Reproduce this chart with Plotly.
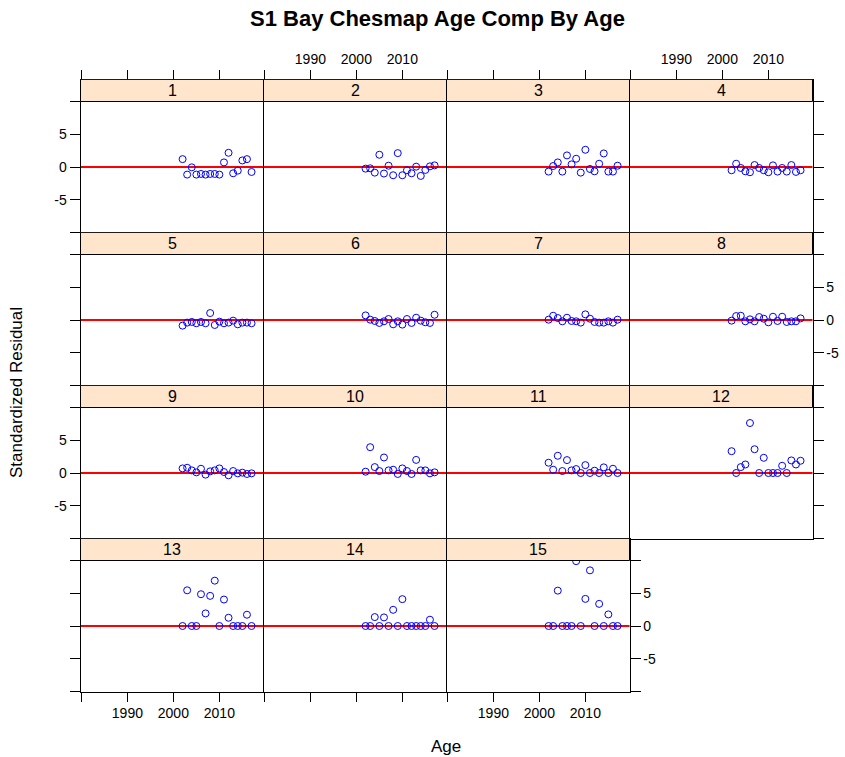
import plotly.graph_objects as go

years = list(range(2002, 2018))
ages = list(range(1, 16))

res_01 = [1.2, -1.16, -0.05, -1.16, -1.06, -1.16, -1.06, -1.06, -1.16, 0.7, 2.17, -0.96, -0.56, 1.0, 1.2, -0.76]
res_02 = [-0.25, -0.2, -0.86, 1.87, -1.0, 0.2, -1.26, 2.12, -1.26, -0.5, -0.96, 0.05, -1.36, -0.45, 0.1, 0.25]
res_03 = [-0.7, 0.15, 0.7, -0.7, 1.77, 0.4, 1.26, -0.86, 2.63, -0.3, -0.66, 0.5, 2.07, -0.7, -0.7, 0.2]
res_04 = [-0.5, 0.5, -0.15, -0.66, -0.8, 0.3, -0.15, -0.5, -0.8, 0.25, -0.7, -0.15, -0.7, 0.3, -0.75, -0.5]
res_05 = [-0.86, -0.4, -0.3, -0.5, -0.3, -0.5, 1.06, -0.76, -0.25, -0.5, -0.4, -0.1, -0.66, -0.4, -0.4, -0.5]
res_06 = [0.7, 0.05, -0.15, -0.45, -0.2, 0.15, -0.66, -0.2, -0.7, 0.15, -0.45, 0.35, -0.1, -0.35, -0.45, 0.8]
res_07 = [0.05, 0.65, 0.3, -0.2, 0.35, -0.15, -0.2, -0.4, 0.86, 0.2, -0.3, -0.4, -0.4, -0.2, -0.4, 0.05]
res_08 = [-0.1, 0.6, 0.65, -0.2, 0.1, -0.2, 0.45, 0.2, -0.35, 0.5, -0.15, 0.5, -0.3, -0.2, -0.2, 0.25]
res_09 = [0.7, 0.8, 0.4, 0.1, 0.65, -0.25, 0.25, 0.4, 0.7, 0.15, -0.35, 0.3, -0.05, 0.05, -0.15, -0.05]
res_10 = [0.2, 3.94, 0.9, 0.3, 2.37, 0.4, 0.5, -0.15, 0.7, 0.3, -0.15, 2.0, 0.4, 0.4, -0.05, 0.1]
res_11 = [1.57, 0.5, 2.63, 0.3, 1.97, 0.4, 0.6, 0.0, 1.2, 0.0, 0.35, 0.0, 0.86, 0.0, 0.65, 0.0]
res_12 = [3.33, 0.0, 0.9, 1.3, 7.63, 3.63, 0.0, 2.32, 0.0, 0.0, 0.0, 1.1, 0.0, 1.92, 1.3, 1.87]
res_13 = [0.0, 5.45, 0.0, 0.0, 4.85, 1.92, 4.6, 6.92, 0.0, 4.04, 1.26, 0.0, 0.0, 0.0, 1.72, 0.0]
res_14 = [0.0, 0.0, 1.36, 0.0, 1.31, 0.0, 2.47, 0.0, 4.1, 0.0, 0.0, 0.0, 0.0, 0.0, 0.96, 0.0]
res_15 = [0.0, 0.0, 5.4, 0.0, 0.0, 0.0, 9.9, 0.0, 4.14, 8.5, 0.0, 3.38, 0.0, 1.77, 0.0, 0.0]

residuals = [res_01, res_02, res_03, res_04, res_05, res_06, res_07, res_08,
             res_09, res_10, res_11, res_12, res_13, res_14, res_15]

x_tickvals = [1980, 1990, 2000, 2010]
x_ticktext = ["", "1990", "2000", "2010"]
y_tickvals = [-10, -5, 0, 5, 10]
y_ticktext = ["", "-5", "0", "5", ""]

W, H = 845, 757
FONT = "Liberation Sans, Arial, Helvetica, sans-serif"
col_left = 80.5
col_w = 183.0
row_top0 = 79.5
row_h = 153.0
strip_h = 22.0
panel_h = row_h - strip_h
y_top = 10 + 20 * strip_h / panel_h
x_range = [1979.8, 2019.6]
TICK_FONT = dict(family=FONT, size=14, color="black")

fig = go.Figure()
layout = dict(
    width=W, height=H,
    margin=dict(l=0, r=0, t=0, b=0),
    paper_bgcolor="white", plot_bgcolor="white",
    showlegend=False,
    font=dict(family=FONT, size=14, color="black"),
)
shapes = []
annotations = []

ncol = 4
for i, age in enumerate(ages):
    r, c = divmod(i, ncol)
    n = i + 1
    xa = "xaxis" if n == 1 else f"xaxis{n}"
    ya = "yaxis" if n == 1 else f"yaxis{n}"
    xr = "x" if n == 1 else f"x{n}"
    yr = "y" if n == 1 else f"y{n}"
    x0 = col_left + col_w * c
    x1 = x0 + col_w
    top = row_top0 + row_h * r
    bot = top + row_h

    xd = dict(domain=[x0 / W, x1 / W], range=x_range, anchor=yr,
              showgrid=False, zeroline=False, showline=True, mirror=True,
              linecolor="black", linewidth=1,
              tickvals=x_tickvals, ticktext=x_ticktext, tickfont=TICK_FONT)
    if r == 0:
        xd.update(side="top", ticks="outside", ticklen=9, tickcolor="black",
                  showticklabels=(c % 2 == 1))
    elif r == 3:
        xd.update(side="bottom", ticks="outside", ticklen=9, tickcolor="black",
                  showticklabels=(c % 2 == 0))
    else:
        xd.update(ticks="", showticklabels=False)
    layout[xa] = xd

    last_in_row = (c == ncol - 1) or (n == len(ages))
    yd = dict(domain=[1 - bot / H, 1 - top / H], range=[-10, y_top], anchor=xr,
              showgrid=False, zeroline=False, showline=True,
              mirror=last_in_row,
              linecolor="black", linewidth=1,
              tickvals=y_tickvals, ticktext=y_ticktext, tickfont=TICK_FONT)
    if c == 0:
        yd.update(side="left", ticks="outside", ticklen=10, tickcolor="black",
                  showticklabels=(r % 2 == 0))
    elif last_in_row:
        yd.update(side="right", ticks="outside", ticklen=10, tickcolor="black",
                  showticklabels=(r % 2 == 1))
    else:
        yd.update(side="left", ticks="", showticklabels=False)
    layout[ya] = yd

    fig.add_trace(go.Scatter(
        x=years, y=residuals[i], xaxis=xr, yaxis=yr, mode="markers",
        marker=dict(symbol="circle-open", size=7, color="blue",
                    line=dict(width=1, color="blue")),
        cliponaxis=True, hoverinfo="x+y"))

    shapes.append(dict(type="line", xref=f"{xr} domain", yref=yr,
                       x0=0, x1=1, y0=0, y1=0,
                       line=dict(color="red", width=2), layer="below"))
    shapes.append(dict(type="rect", xref=f"{xr} domain", yref=yr,
                       x0=0, x1=1, y0=10, y1=y_top,
                       fillcolor="#ffe5cc", line=dict(color="black", width=1),
                       layer="above"))
    annotations.append(dict(xref=f"{xr} domain", yref=yr, x=0.5,
                            y=(10 + y_top) / 2, text=str(age), showarrow=False,
                            font=dict(family=FONT, size=16, color="black"),
                            xanchor="center", yanchor="middle"))

annotations.append(dict(xref="paper", yref="paper", x=438 / W, y=1 - 19 / H,
                        text="<b>S1 Bay Chesmap Age Comp By Age</b>",
                        showarrow=False, xanchor="center", yanchor="middle",
                        font=dict(family=FONT, size=22, color="black")))
annotations.append(dict(xref="paper", yref="paper", x=446 / W, y=1 - 746 / H,
                        text="Age", showarrow=False, xanchor="center",
                        yanchor="middle",
                        font=dict(family=FONT, size=17, color="black")))
annotations.append(dict(xref="paper", yref="paper", x=17 / W, y=1 - 393 / H,
                        text="Standardized Residual", showarrow=False,
                        textangle=-90, xanchor="center", yanchor="middle",
                        font=dict(family=FONT, size=17, color="black")))

layout["shapes"] = shapes
layout["annotations"] = annotations
fig.update_layout(**layout)
fig.write_html("out.html",
               config={"displayModeBar": False},
               post_script="document.body.style.margin='0';document.body.style.overflow='hidden';")
